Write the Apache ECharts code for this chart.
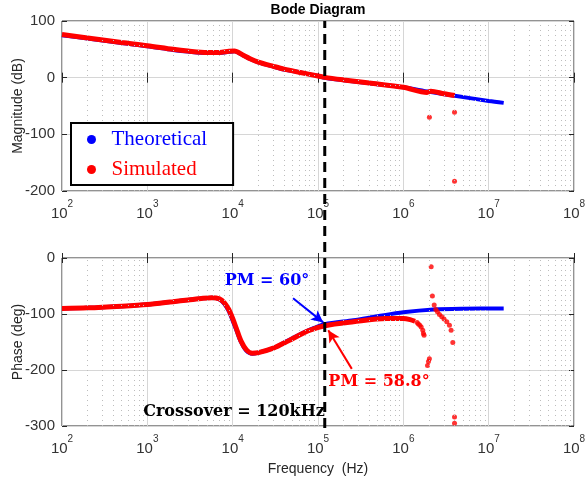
<!DOCTYPE html>
<html>
<head>
<meta charset="utf-8">
<script src="https://cdn.jsdelivr.net/npm/echarts@6/dist/echarts.min.js"></script>
<style>html,body{margin:0;padding:0;background:#fff}#c{width:586px;height:481px}</style>
</head>
<body>
<div id="c"></div>
<script>
// ---------- data ----------
const magTheoFreq = [1e2, 2e2, 5e2, 1e3, 2e3, 3e3, 5e3, 7e3, 9e3, 1.05e4, 1.3e4, 1.6e4, 2e4, 3e4, 4e4, 6e4, 1e5, 1.2e5, 2e5, 4e5, 1e6, 2e6, 4e6, 1e7, 1.5e7];
const magTheo     = [75, 69, 61, 55.5, 49, 46, 43.5, 43.5, 45.5, 46.5, 40, 33, 27, 19.5, 14.5, 9.5, 3, 0, -4.5, -10, -17, -25, -32, -41, -44.5];
const magSimFreq  = [1e2, 2e2, 5e2, 1e3, 2e3, 3e3, 5e3, 7e3, 9e3, 1.05e4, 1.3e4, 1.6e4, 2e4, 3e4, 4e4, 6e4, 1e5, 1.2e5, 2e5, 4e5, 1e6, 1.9e6, 2.1e6, 3e6, 4e6];
const magSim      = [76, 70, 62, 56.5, 50, 47, 44.5, 44.5, 46.5, 47, 40.5, 33.5, 27.5, 20, 15, 9.5, 3, 0.5, -4, -9.5, -17, -26, -24, -28.5, -31.5];
const magSimOutFreq = [2.02e6, 3.98e6, 3.98e6];
const magSimOut     = [-70, -61, -183];

const phTheoFreq = [1e2, 2e2, 5e2, 1e3, 2e3, 3e3, 4.5e3, 5.7e3, 7e3, 8e3, 9e3, 1e4, 1.1e4, 1.25e4, 1.45e4, 1.7e4, 2e4, 3e4, 4.5e4, 7.7e4, 1.2e5, 2.6e5, 5e5, 1e6, 2.25e6, 5e6, 1.5e7];
const phTheo     = [-90, -89, -86, -83, -78, -75, -72, -71, -74, -82, -95, -112, -128, -150, -166, -171, -169, -161, -147, -129, -118, -111, -104, -97, -92, -90.5, -90];
const phSimFreq  = [1e2, 2e2, 5e2, 1e3, 2e3, 3e3, 4.5e3, 5.7e3, 7e3, 8e3, 9e3, 1e4, 1.1e4, 1.25e4, 1.45e4, 1.7e4, 2e4, 3e4, 4.5e4, 7.7e4, 1.2e5, 2.6e5, 6.3e5, 1e6, 1.2e6, 1.37e6];
const phSim      = [-90, -89, -86, -83, -78, -75, -72, -71, -73, -80, -92, -108, -125, -148, -164, -170, -169, -161, -148, -130, -121, -114, -108, -108, -110, -113];
const phSimDotFreq = [1.45e6, 1.5e6, 1.56e6, 1.62e6, 1.69e6, 1.72e6, 1.75e6, 2.02e6, 1.97e6, 1.92e6,
                      2.12e6, 2.19e6, 2.3e6, 2.4e6, 2.51e6, 2.65e6, 2.82e6, 3.0e6, 3.23e6, 3.47e6, 3.63e6, 3.8e6, 3.98e6, 3.98e6];
const phSimDot     = [-115, -118, -120, -123, -129, -135, -138, -180, -185, -192,
                      -15.5, -68, -84, -92, -96, -101, -105, -109, -114, -120, -129, -151, -284, -295];

const crossoverFreq = 1.2e5;
const arrowPM60   = [[5.1e4, -72], [1.15e5, -115]];
const arrowPM588  = [[2.49e5, -198], [1.32e5, -129]];

const magTicks = { min: -200, max: 100, step: 100 };
const phTicks  = { min: -300, max: 0, step: 100 };
const freqRange = { min: 1e2, max: 1e8 };
const minorMult = [2, 3, 4, 5, 6, 7, 8, 9];
const decades = [1e2, 1e3, 1e4, 1e5, 1e6, 1e7];

// ---------- build ----------
const zip = (a, b) => a.map((v, i) => [v, b[i]]);
const minorFreqs = [];
decades.forEach(d => minorMult.forEach(m => minorFreqs.push(d * m)));

const BLUE = '#0000ff', RED = '#ff0000', AX = '#262626';
const sans = 'Liberation Sans';

function xAx(gi, showLabel, name) {
  return {
    type: 'log', logBase: 10, gridIndex: gi, min: freqRange.min, max: freqRange.max, splitNumber: 6,
    axisLine: { show: false },
    axisTick: { show: true, inside: true, length: 5, lineStyle: { color: AX } },
    splitLine: { show: true, lineStyle: { color: '#d6d6d6', width: 1 } },
    axisLabel: {
      show: showLabel, margin: 8,
      formatter: v => '{b|10}{s|' + Math.round(Math.log10(v)) + '}',
      rich: {
        b: { fontFamily: sans, fontSize: 15, color: '#333', verticalAlign: 'bottom', lineHeight: 22 },
        s: { fontFamily: sans, fontSize: 10, color: '#333', verticalAlign: 'top', lineHeight: 22 }
      }
    },
    name: name || '', nameLocation: 'middle', nameGap: 36, nameMoveOverlap: false,
    nameTextStyle: { fontFamily: sans, fontSize: 14, color: AX }
  };
}
function xAxTop(gi) {
  return {
    type: 'log', logBase: 10, gridIndex: gi, min: freqRange.min, max: freqRange.max, splitNumber: 6, position: 'top',
    axisLine: { show: false }, axisLabel: { show: false }, splitLine: { show: false },
    axisTick: { show: true, inside: true, length: 5, lineStyle: { color: AX } }
  };
}
function yAx(gi, t, name) {
  return {
    type: 'value', gridIndex: gi, min: t.min, max: t.max, interval: t.step,
    axisLine: { show: false },
    axisTick: { show: true, inside: true, length: 5, lineStyle: { color: AX } },
    splitLine: { show: true, lineStyle: { color: '#d6d6d6', width: 1 } },
    axisLabel: { fontFamily: sans, fontSize: 15, color: '#333', margin: 7 },
    name: name, nameLocation: 'middle', nameGap: 37, nameMoveOverlap: false,
    nameTextStyle: { fontFamily: sans, fontSize: 14, color: AX }
  };
}
function yAxRight(gi, t) {
  return {
    type: 'value', gridIndex: gi, min: t.min, max: t.max, interval: t.step, position: 'right',
    axisLine: { show: false }, axisLabel: { show: false }, splitLine: { show: false },
    axisTick: { show: true, inside: true, length: 5, lineStyle: { color: AX } }
  };
}
function minorSeries(xi, yi) {
  return {
    type: 'line', xAxisIndex: xi, yAxisIndex: yi, data: [], silent: true, z: 1,
    markLine: {
      silent: true, symbol: ['none', 'none'], label: { show: false }, animation: false,
      lineStyle: { type: [1, 4], color: '#bdbdbd', width: 1 },
      emphasis: { disabled: true },
      data: minorFreqs.map(f => ({ xAxis: f }))
    }
  };
}
function arrowSeries(pts, color) {
  return {
    type: 'line', xAxisIndex: 1, yAxisIndex: 1, data: [], silent: true, z: 9,
    markLine: {
      silent: true, symbol: ['none', 'arrow'], symbolSize: [9, 12], label: { show: false }, animation: false,
      lineStyle: { type: 'solid', color: color, width: 2 },
      emphasis: { disabled: true },
      data: [[{ coord: pts[0] }, { coord: pts[1] }]]
    }
  };
}

const gridBase = { left: 62, right: 12, outerBoundsMode: 'none', containLabel: false };
const option = {
  animation: false,
  backgroundColor: '#fff',
  grid: [
    Object.assign({ top: 21, height: 170, show: true, borderColor: AX, borderWidth: 1, backgroundColor: 'transparent' }, gridBase),
    Object.assign({ top: 258, height: 168, show: true, borderColor: AX, borderWidth: 1, backgroundColor: 'transparent' }, gridBase),
    Object.assign({ top: 21, height: 407, show: false }, gridBase)
  ],
  xAxis: [
    xAx(0, true), xAx(1, true, 'Frequency  (Hz)'),
    { type: 'log', logBase: 10, gridIndex: 2, min: freqRange.min, max: freqRange.max, show: false },
    xAxTop(0), xAxTop(1)
  ],
  yAxis: [
    yAx(0, magTicks, 'Magnitude (dB)'), yAx(1, phTicks, 'Phase (deg)'),
    { type: 'value', gridIndex: 2, min: 0, max: 1, show: false },
    yAxRight(0, magTicks), yAxRight(1, phTicks)
  ],
  legend: {
    left: 71, top: 123, orient: 'vertical', backgroundColor: '#fff',
    borderColor: '#000', borderWidth: 2, borderRadius: 0,
    padding: [6, 26, 5, 16], itemGap: 9, itemWidth: 30, itemHeight: 9, icon: 'circle',
    textStyle: { fontFamily: 'Liberation Serif', fontSize: 21 },
    selectedMode: false,
    data: [
      { name: 'Theoretical', textStyle: { color: BLUE } },
      { name: 'Simulated', textStyle: { color: RED } }
    ],
    z: 20
  },
  graphic: [
    { type: 'text', x: 318, y: 10, z: 30, style: { text: 'Bode Diagram', textAlign: 'center', textVerticalAlign: 'middle', font: 'bold 14px "Liberation Sans"', fill: '#000' } },
    { type: 'text', x: 267, y: 281, z: 30, style: { text: 'PM = 60°', textAlign: 'center', textVerticalAlign: 'middle', font: 'bold 16px "DejaVu Serif"', fill: BLUE } },
    { type: 'text', x: 379, y: 382, z: 30, style: { text: 'PM = 58.8°', textAlign: 'center', textVerticalAlign: 'middle', font: 'bold 16px "DejaVu Serif"', fill: RED } },
    { type: 'text', x: 234, y: 412, z: 30, style: { text: 'Crossover = 120kHz', textAlign: 'center', textVerticalAlign: 'middle', font: 'bold 16px "DejaVu Serif"', fill: '#000' } }
  ],
  series: [
    minorSeries(0, 0),
    minorSeries(1, 1),
    { name: 'Theoretical', type: 'line', xAxisIndex: 0, yAxisIndex: 0, data: zip(magTheoFreq, magTheo), smooth: 0.3, showSymbol: false, lineStyle: { color: BLUE, width: 4 }, itemStyle: { color: BLUE }, z: 3 },
    { name: 'Simulated', type: 'line', xAxisIndex: 0, yAxisIndex: 0, data: zip(magSimFreq, magSim), smooth: 0.3, showSymbol: false, lineStyle: { color: RED, width: 5 }, itemStyle: { color: RED }, z: 4 },
    { name: 'Simulated', type: 'scatter', xAxisIndex: 0, yAxisIndex: 0, data: zip(magSimOutFreq, magSimOut), symbolSize: 5, itemStyle: { color: RED }, z: 4 },
    { name: 'Theoretical', type: 'line', xAxisIndex: 1, yAxisIndex: 1, data: zip(phTheoFreq, phTheo), smooth: 0.3, showSymbol: false, lineStyle: { color: BLUE, width: 4 }, itemStyle: { color: BLUE }, z: 3 },
    { name: 'Simulated', type: 'line', xAxisIndex: 1, yAxisIndex: 1, data: zip(phSimFreq, phSim), smooth: 0.3, showSymbol: false, lineStyle: { color: RED, width: 5 }, itemStyle: { color: RED }, z: 4 },
    { name: 'Simulated', type: 'scatter', xAxisIndex: 1, yAxisIndex: 1, data: zip(phSimDotFreq, phSimDot), symbolSize: 5, itemStyle: { color: RED }, z: 4 },
    { type: 'line', xAxisIndex: 2, yAxisIndex: 2, data: [[crossoverFreq, 0], [crossoverFreq, 1]], showSymbol: false, silent: true, lineStyle: { color: '#000', width: 3, type: [10, 6] }, z: 8 },
    arrowSeries(arrowPM60, BLUE),
    arrowSeries(arrowPM588, RED)
  ]
};

const chart = echarts.init(document.getElementById('c'), null, { renderer: 'canvas' });
chart.setOption(option);
</script>
</body>
</html>
